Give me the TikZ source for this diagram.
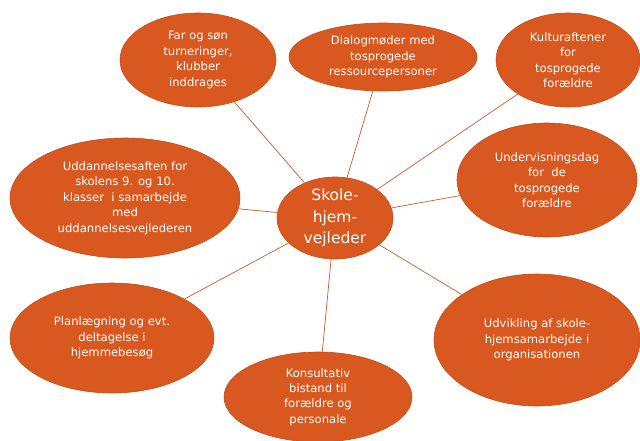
\documentclass[tikz,border=0pt]{standalone}
\usepackage{fontspec}
\setmainfont{DejaVu Sans}
\usetikzlibrary{shapes.geometric}
\definecolor{bub}{RGB}{217,88,31}
\definecolor{bubedge}{RGB}{196,76,24}
\definecolor{lin}{RGB}{205,90,40}
\begin{document}
\begin{tikzpicture}[x=1pt,y=-1pt,
  bubble/.style={ellipse,fill=bub,draw=bubedge,line width=0.6pt,inner sep=0pt,
    text=white,align=center,font=\fontsize{11.6}{15.4}\selectfont},
  link/.style={draw=lin,line width=0.7pt}]
\useasboundingbox (0,0) rectangle (640,440);
\node[bubble,minimum width=156,minimum height=94] (far) at (198,60) {Far og søn\\turneringer,\\klubber\\inddrages};
\node[bubble,minimum width=188,minimum height=68] (dia) at (383,57) {Dialogmøder med\\tosprogede\\ressourcepersoner};
\node[bubble,minimum width=144,minimum height=94] (kul) at (568,60) {Kulturaftener\\for\\tosprogede\\forældre};
\node[bubble,minimum width=180,minimum height=114] (und) at (547,180) {Undervisningsdag\\for\ \ de\\tosprogede\\forældre};
\node[bubble,minimum width=230,minimum height=120] (udd) at (125,198) {Uddannelsesaften for\\skolens 9. og 10.\\klasser\ \ i samarbejde\\med\\uddannelsesvejlederen};
\node[bubble,minimum width=204,minimum height=110] (pla) at (112,338) {Planlægning og evt.\\deltagelse i\\hjemmebesøg};
\node[bubble,minimum width=188,minimum height=90] (kon) at (318,397) {Konsultativ\\bistand til\\forældre og\\personale};
\node[bubble,minimum width=206,minimum height=132] (udv) at (537,340) {Udvikling af skole-\\hjemsamarbejde i\\organisationen};
\node[bubble,minimum width=116,minimum height=72,font=\fontsize{15.5}{21.5}\selectfont] (sk) at (335,218) {Skole-\\hjem-\\vejleder};
\foreach \n in {far,dia,kul,und,udd,pla,kon,udv}
  \draw[link] (sk) -- (\n);
\end{tikzpicture}
\end{document}
